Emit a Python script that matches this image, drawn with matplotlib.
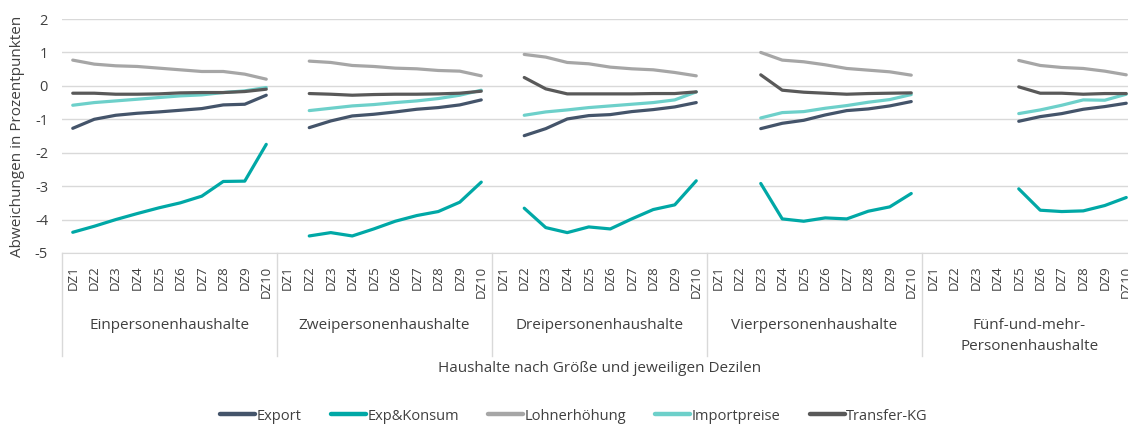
import matplotlib.pyplot as plt
import matplotlib.transforms as mtransforms
import numpy as np

nan = np.nan

groups = ["Einpersonenhaushalte", "Zweipersonenhaushalte", "Dreipersonenhaushalte",
          "Vierpersonenhaushalte", "Fünf-und-mehr-\nPersonenhaushalte"]
deciles = ["DZ1", "DZ2", "DZ3", "DZ4", "DZ5", "DZ6", "DZ7", "DZ8", "DZ9", "DZ10"]

export = [
    -1.27, -1.00, -0.88, -0.82, -0.78, -0.73, -0.68, -0.57, -0.55, -0.28,
    nan, -1.25, -1.05, -0.90, -0.85, -0.78, -0.70, -0.65, -0.57, -0.42,
    nan, -1.49, -1.28, -0.99, -0.89, -0.86, -0.77, -0.71, -0.63, -0.50,
    nan, nan, -1.28, -1.12, -1.03, -0.87, -0.74, -0.69, -0.60, -0.47,
    nan, nan, nan, nan, -1.06, -0.92, -0.83, -0.70, -0.62, -0.52,
]
exp_konsum = [
    -4.38, -4.20, -4.00, -3.82, -3.65, -3.50, -3.30, -2.86, -2.85, -1.75,
    nan, -4.49, -4.39, -4.49, -4.28, -4.05, -3.88, -3.76, -3.48, -2.88,
    nan, -3.66, -4.24, -4.39, -4.22, -4.28, -3.98, -3.70, -3.56, -2.84,
    nan, nan, -2.92, -3.98, -4.05, -3.95, -3.98, -3.75, -3.62, -3.22,
    nan, nan, nan, nan, -3.08, -3.72, -3.76, -3.74, -3.58, -3.34,
]
lohn = [
    0.77, 0.65, 0.60, 0.58, 0.53, 0.48, 0.43, 0.43, 0.35, 0.20,
    nan, 0.74, 0.70, 0.61, 0.58, 0.53, 0.51, 0.46, 0.44, 0.30,
    nan, 0.94, 0.86, 0.70, 0.66, 0.56, 0.51, 0.48, 0.40, 0.30,
    nan, nan, 1.00, 0.77, 0.72, 0.63, 0.52, 0.47, 0.42, 0.32,
    nan, nan, nan, nan, 0.76, 0.61, 0.55, 0.52, 0.44, 0.33,
]
import_preise = [
    -0.58, -0.50, -0.45, -0.40, -0.35, -0.30, -0.27, -0.20, -0.15, -0.05,
    nan, -0.74, -0.67, -0.60, -0.56, -0.50, -0.45, -0.38, -0.28, -0.13,
    nan, -0.88, -0.78, -0.72, -0.65, -0.60, -0.55, -0.50, -0.42, -0.18,
    nan, nan, -0.96, -0.80, -0.77, -0.67, -0.59, -0.49, -0.41, -0.26,
    nan, nan, nan, nan, -0.83, -0.72, -0.58, -0.42, -0.43, -0.25,
]
transfer = [
    -0.22, -0.22, -0.25, -0.25, -0.24, -0.21, -0.20, -0.20, -0.17, -0.10,
    nan, -0.23, -0.25, -0.28, -0.26, -0.25, -0.25, -0.24, -0.22, -0.16,
    nan, 0.25, -0.09, -0.24, -0.24, -0.24, -0.24, -0.23, -0.23, -0.18,
    nan, nan, 0.33, -0.13, -0.19, -0.22, -0.25, -0.23, -0.22, -0.21,
    nan, nan, nan, nan, -0.03, -0.22, -0.22, -0.25, -0.23, -0.23,
]

series = [
    ("Export", export, "#44546A"),
    ("Exp&Konsum", exp_konsum, "#00A8A6"),
    ("Lohnerhöhung", lohn, "#A6A6A6"),
    ("Importpreise", import_preise, "#6DD0CA"),
    ("Transfer-KG", transfer, "#595959"),
]

plt.rcParams['font.family'] = ['Open Sans', 'DejaVu Sans']
txt = "#404040"

W, H = 1128, 425
fig = plt.figure(figsize=(W / 100, H / 100), dpi=100)
left, right, top, bottom = 62, 1137, 19, 253
ax = fig.add_axes([left / W, 1 - bottom / H, (right - left) / W, (bottom - top) / H])

x = np.arange(len(export))
for name, vals, col in series:
    ax.plot(x, vals, color=col, lw=2.3, label=name, solid_capstyle='round')

ax.set_ylim(-5, 2)
ax.set_xlim(-0.5, len(export) - 0.5)
ax.set_yticks(range(-5, 3))
ax.set_yticklabels([str(v) for v in range(-5, 3)], fontsize=10.5, color=txt)
ax.grid(axis='y', color="#D9D9D9", lw=1)
ax.set_axisbelow(True)
for s in ["top", "right", "left"]:
    ax.spines[s].set_visible(False)
ax.spines["bottom"].set_color("#D9D9D9")
ax.tick_params(axis='y', length=0, pad=10)

ax.set_xticks(x)
ax.set_xticklabels(deciles * len(groups), rotation=90, fontsize=9.5, color=txt)
ax.tick_params(axis='x', length=0, pad=9)

trans = mtransforms.blended_transform_factory(ax.transData, ax.transAxes)
sep_len = (356 - bottom) / (bottom - top)
for i in range(len(groups) + 1):
    ax.plot([i * 10 - 0.5] * 2, [0, -sep_len], transform=trans, color="#D9D9D9",
            lw=1, clip_on=False)

for i, g in enumerate(groups):
    yy = -0.31 if "\n" not in g else -0.355
    ax.text(i * 10 + 4.5, yy, g, transform=trans, ha='center', va='center',
            fontsize=11, color=txt, linespacing=1.5)

ax.text(0.5, -(369 - bottom) / (bottom - top), "Haushalte nach Größe und jeweiligen Dezilen",
        transform=ax.transAxes, ha='center', va='center', fontsize=11, color=txt)

ax.text(18 / W, 1 - 136 / H, "Abweichungen in Prozentpunkten", transform=fig.transFigure,
        rotation=90, ha='center', va='center', fontsize=11, color=txt)

fig.legend(loc='center', bbox_to_anchor=(574 / W, 1 - 416 / H), ncol=5, frameon=False,
           fontsize=10.5, handlelength=2.4, columnspacing=2.0, handletextpad=0.1,
           labelcolor=txt)
for h in fig.legends[0].get_lines():
    h.set_linewidth(3.2)

fig.savefig("out.png", dpi=100)
